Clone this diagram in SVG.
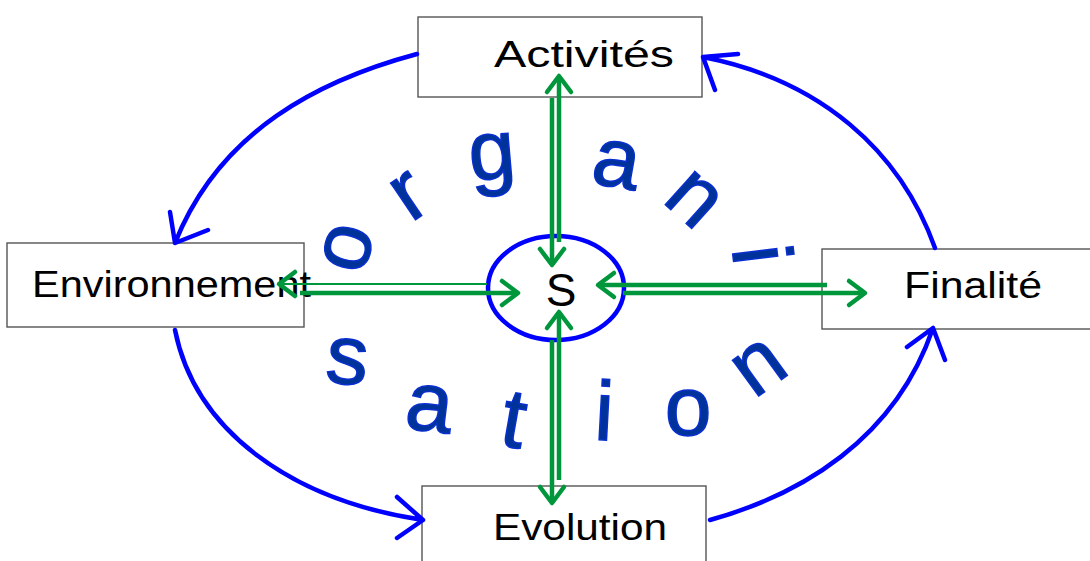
<svg xmlns="http://www.w3.org/2000/svg" width="1090" height="561" viewBox="0 0 1090 561">
<style>
.box{fill:#fff;stroke:#555;stroke-width:1.4}
.lbl{font-family:"Liberation Sans",Arial,sans-serif;font-size:37px;fill:#000}
.blue{fill:none;stroke:#0000ff;stroke-width:4.5;stroke-linecap:round;stroke-linejoin:round}
.grn{fill:none;stroke:#00963c;stroke-width:4.5}
.grn2{fill:none;stroke:#00963c;stroke-width:2.2}
.let{font-family:"Liberation Sans",Arial,sans-serif;font-size:84px;fill:#003399;stroke:#0a2fd0;stroke-width:1.5;text-anchor:middle}
</style>
<defs>
<marker id="ga" markerUnits="userSpaceOnUse" orient="auto" markerWidth="30" markerHeight="30" refX="0" refY="0" viewBox="-20 -15 24 30" overflow="visible">
<path d="M-16,-12 L0,0 L-16,12" fill="none" stroke="#00963c" stroke-width="4.5" stroke-linecap="round" stroke-linejoin="round"/>
</marker>
</defs>
<rect width="1090" height="561" fill="#fff"/>

<g id="letters">
<text class="let" transform="translate(348,248) rotate(-75)" y="22">o</text>
<text class="let" transform="translate(410,197) rotate(-34)" y="22">r</text>
<text class="let" transform="translate(492,157) rotate(-5)" y="22">g</text>
<text class="let" transform="translate(616,165) rotate(10)" y="22">a</text>
<text class="let" transform="translate(693,200) rotate(42)" y="22">n</text>
<text class="let" transform="translate(755,255) rotate(83)" y="22">i</text>
<text class="let" transform="translate(347,362) rotate(5)" y="22">s</text>
<text class="let" transform="translate(429,409) rotate(7)" y="22">a</text>
<text class="let" transform="translate(513,425) rotate(10)" y="22">t</text>
<text class="let" transform="translate(604,418) rotate(3)" y="22">i</text>
<text class="let" transform="translate(688,413) rotate(0)" y="22">o</text>
<text class="let" transform="translate(760,368) rotate(-36)" y="22">n</text>
</g>

<g id="activites"><rect class="box" x="418" y="17" width="284" height="80"/><text class="lbl" x="494" y="67" textLength="180" lengthAdjust="spacingAndGlyphs">Activités</text></g>
<g id="environnement"><rect class="box" x="7" y="243" width="297" height="84"/><text class="lbl" x="32" y="297" textLength="279" lengthAdjust="spacingAndGlyphs">Environnement</text></g>
<g id="finalite"><rect class="box" x="822" y="249" width="270" height="80"/><text class="lbl" x="904" y="298" textLength="138" lengthAdjust="spacingAndGlyphs">Finalité</text></g>
<g id="evolution"><rect class="box" x="422" y="486" width="284" height="85"/><text class="lbl" x="493" y="540" textLength="174" lengthAdjust="spacingAndGlyphs">Evolution</text></g>

<g id="s"><ellipse cx="556" cy="288" rx="68" ry="52" fill="none" stroke="#0000ff" stroke-width="4.5"/><text x="561" y="306" text-anchor="middle" font-family="Liberation Sans,Arial,sans-serif" font-size="46" fill="#000">S</text></g>

<g id="connectors">
<path class="blue" d="M417,54 C320,80 220,130 175,243 M170,212 L175,243 L208,230"/>
<path class="blue" d="M175,330 C195,430 290,500 423,520 M397,497 L423,520 L397,538"/>
<path class="blue" d="M710,520 C800,495 895,440 933,328 M907,347 L933,328 L945,360"/>
<path class="blue" d="M935,248 C900,150 820,80 703,57 M738,54 L703,57 L715,90"/>

<line class="grn" x1="559" y1="242" x2="559" y2="76" marker-end="url(#ga)"/>
<line class="grn" x1="552" y1="98" x2="552" y2="265" marker-end="url(#ga)"/>
<line class="grn" x1="559" y1="480" x2="559" y2="312" marker-end="url(#ga)"/>
<line class="grn" x1="552" y1="340" x2="552" y2="503" marker-end="url(#ga)"/>
<line class="grn2" x1="487" y1="284" x2="279" y2="284" marker-end="url(#ga)"/>
<line class="grn" x1="300" y1="293" x2="518" y2="293" marker-end="url(#ga)"/>
<line class="grn" x1="827" y1="285" x2="598" y2="285" marker-end="url(#ga)"/>
<line class="grn" x1="623" y1="293" x2="865" y2="293" marker-end="url(#ga)"/>
</g>
</svg>
